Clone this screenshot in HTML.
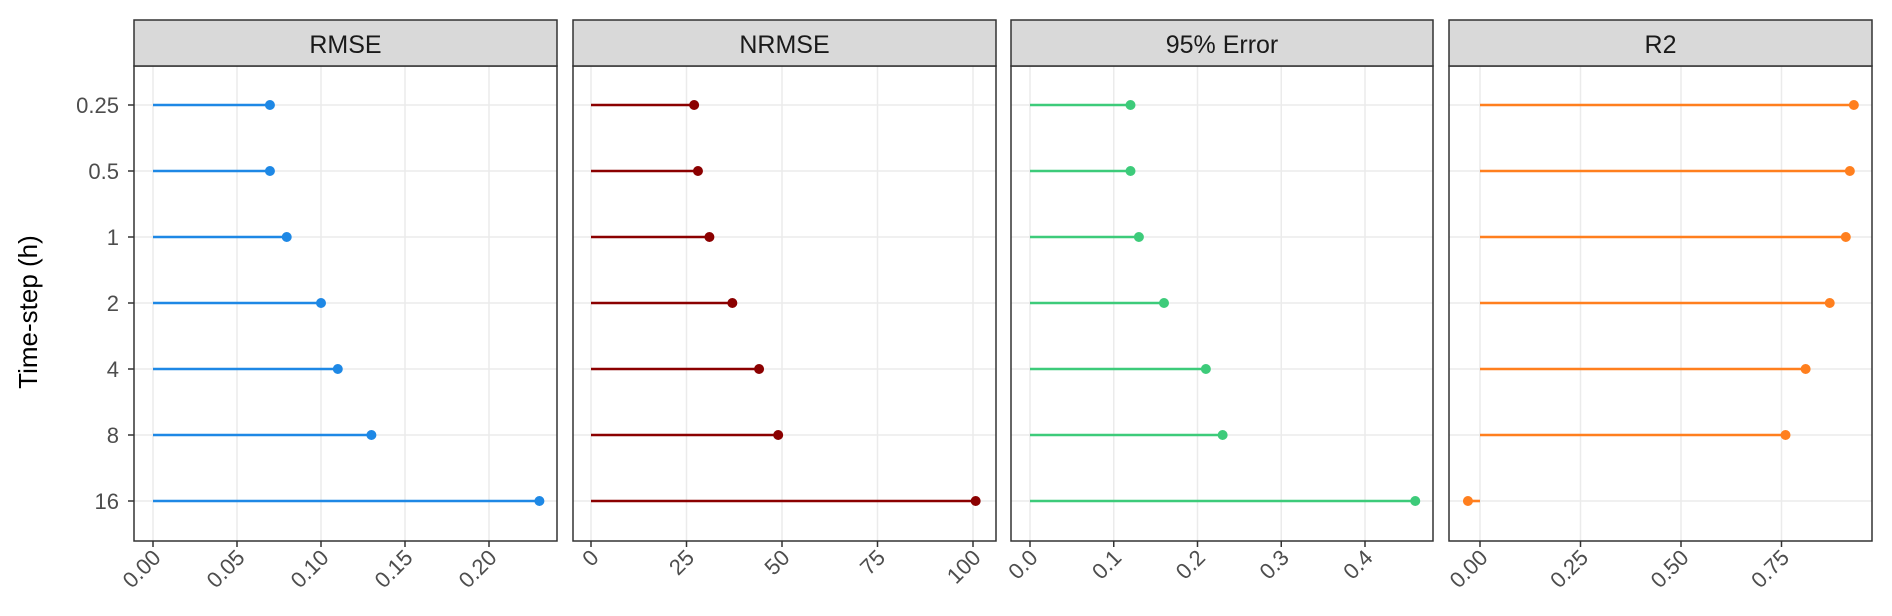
<!DOCTYPE html>
<html><head><meta charset="utf-8"><style>
html,body{margin:0;padding:0;background:#fff;}
svg{display:block;font-family:"Liberation Sans",Arial,sans-serif;}
</style></head><body>
<svg width="1892" height="616" viewBox="0 0 1892 616" xmlns="http://www.w3.org/2000/svg">
<text x="0" y="0" transform="translate(37,312) rotate(-90)" text-anchor="middle" font-size="26" fill="#000">Time-step (h)</text>
<g font-size="22" fill="#4d4d4d" text-anchor="end">
<text x="119" y="113">0.25</text><text x="119" y="179">0.5</text><text x="119" y="245">1</text>
<text x="119" y="311">2</text><text x="119" y="377">4</text><text x="119" y="443">8</text><text x="119" y="509">16</text>
</g>
<g stroke="#333" stroke-width="1.5">
<line x1="128" x2="134" y1="105" y2="105"/><line x1="128" x2="134" y1="171" y2="171"/><line x1="128" x2="134" y1="237" y2="237"/>
<line x1="128" x2="134" y1="303" y2="303"/><line x1="128" x2="134" y1="369" y2="369"/><line x1="128" x2="134" y1="435" y2="435"/><line x1="128" x2="134" y1="501" y2="501"/>
</g>
<g id="panels"></g>
</svg>
<script>
const NS="http://www.w3.org/2000/svg";
const g=document.getElementById("panels");
const rows=[105,171,237,303,369,435,501];
const P=[
 {l:134,r:557,t:"RMSE",x0:153,s:84/0.05,ticks:[[0,"0.00"],[0.05,"0.05"],[0.1,"0.10"],[0.15,"0.15"],[0.2,"0.20"]],c:"#1E88E5",v:[0.0696,0.0696,0.0796,0.1,0.11,0.13,0.23]},
 {l:573,r:996,t:"NRMSE",x0:591,s:3.82,ticks:[[0,"0"],[25,"25"],[50,"50"],[75,"75"],[100,"100"]],c:"#8B0000",v:[27,28,31,37,44,49,100.7]},
 {l:1011,r:1433,t:"95% Error",x0:1030,s:837.5,ticks:[[0,"0.0"],[0.1,"0.1"],[0.2,"0.2"],[0.3,"0.3"],[0.4,"0.4"]],c:"#3DCB7A",v:[0.12,0.12,0.13,0.16,0.21,0.23,0.46]},
 {l:1449,r:1872,t:"R2",x0:1480,s:402,ticks:[[0,"0.00"],[0.25,"0.25"],[0.5,"0.50"],[0.75,"0.75"]],c:"#FF7F1E",v:[0.93,0.92,0.91,0.87,0.81,0.76,-0.03]}
];
function el(n,a,p){const e=document.createElementNS(NS,n);for(const k in a)e.setAttribute(k,a[k]);(p||g).appendChild(e);return e;}
for(const p of P){
 el("rect",{x:p.l,y:66,width:p.r-p.l,height:475,fill:"#fff"});
 for(const y of rows) el("line",{x1:p.l,x2:p.r,y1:y,y2:y,stroke:"#ebebeb","stroke-width":1.5});
 for(const [v,lab] of p.ticks){const x=p.x0+v*p.s;
  el("line",{x1:x,x2:x,y1:66,y2:541,stroke:"#ebebeb","stroke-width":1.5});
  el("line",{x1:x,x2:x,y1:541,y2:547,stroke:"#333","stroke-width":1.5});
  const t=el("text",{x:0,y:0,transform:`translate(${x+9},${559}) rotate(-45)`,"text-anchor":"end","font-size":"22",fill:"#4d4d4d"});t.textContent=lab;}
 p.v.forEach((v,i)=>{const x=p.x0+v*p.s;
  el("line",{x1:p.x0,x2:x,y1:rows[i],y2:rows[i],stroke:p.c,"stroke-width":2.6});
  el("circle",{cx:x,cy:rows[i],r:5,fill:p.c});});
 el("rect",{x:p.l,y:66,width:p.r-p.l,height:475,fill:"none",stroke:"#333","stroke-width":1.5});
 el("rect",{x:p.l,y:20,width:p.r-p.l,height:46,fill:"#d9d9d9",stroke:"#333","stroke-width":1.5});
 const t=el("text",{x:(p.l+p.r)/2,y:53,"text-anchor":"middle","font-size":"25",fill:"#1a1a1a"});t.textContent=p.t;
}
</script>
</body></html>
